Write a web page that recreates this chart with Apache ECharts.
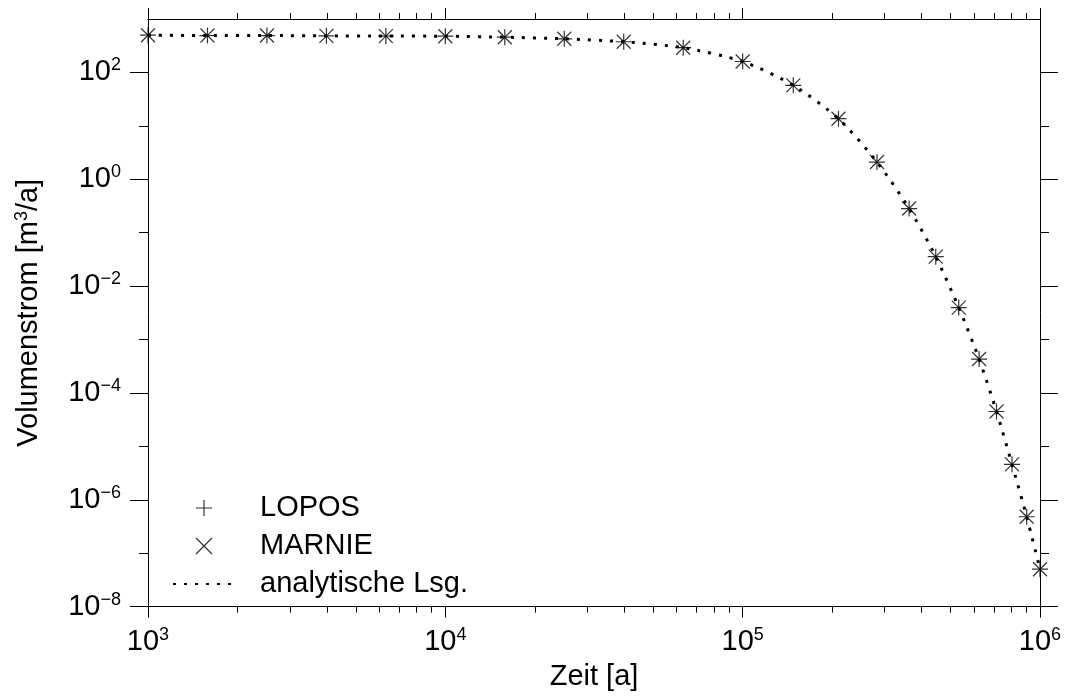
<!DOCTYPE html>
<html><head><meta charset="utf-8">
<script src="https://cdn.jsdelivr.net/npm/echarts@6/dist/echarts.min.js"></script>
<style>html,body{margin:0;padding:0;background:#fff}#c{width:1068px;height:698px}</style>
</head><body><div id="c"></div>
<script>
// ---- data ----
const times = [1000, 1585, 2512, 3981, 6310, 10000, 15849, 25119, 39811, 63096, 100000,
  148000, 210000, 283000, 363000, 446000, 533000, 624000, 714000, 805000, 902000, 1000000];
const loposFlow = [497, 490, 490, 484, 479, 476, 456, 426, 375, 290, 160,
  57.3, 13.6, 2.10, 0.283, 0.0356, 0.00396, 0.000431, 0.0000449, 0.00000461, 0.000000481, 0.0000000501];
const marnieFlow = [497, 490, 490, 484, 479, 476, 456, 426, 375, 290, 160,
  57.3, 13.6, 2.10, 0.283, 0.0356, 0.00396, 0.000431, 0.0000449, 0.00000461, 0.000000481, 0.0000000501];
const analyticFlow = [497, 490, 490, 484, 479, 476, 456, 426, 375, 290, 160,
  57.3, 13.6, 2.10, 0.283, 0.0356, 0.00396, 0.000431, 0.0000449, 0.00000461, 0.000000481, 0.0000000501];
const seriesNames = ['LOPOS', 'MARNIE', 'analytische Lsg.'];
const xMajorTicks = [1e3, 1e4, 1e5, 1e6];
const xMinorTicks = [2e3,3e3,4e3,5e3,6e3,7e3,8e3,9e3, 2e4,3e4,4e4,5e4,6e4,7e4,8e4,9e4, 2e5,3e5,4e5,5e5,6e5,7e5,8e5,9e5];
const yMajorTicks = [1e-8, 1e-6, 1e-4, 1e-2, 1, 1e2];
const yMinorTicks = [1e-7, 1e-5, 1e-3, 1e-1, 1e1];
const xName = 'Zeit [a]';
const yNameRich = 'Volumenstrom [m{s|3}/a]';

// ---- chart ----
const FONT = 'Liberation Sans';
const rich = {
  b: { fontFamily: FONT, fontSize: 29, lineHeight: 32, color: '#000', verticalAlign: 'middle' },
  s: { fontFamily: FONT, fontSize: 18, lineHeight: 18, color: '#000', verticalAlign: 'top' }
};
const expFmt = v => {
  const e = Math.round(Math.log10(v));
  return '{b|10}{s|' + (e < 0 ? '\u2212' + (-e) : e) + '}';
};
const black = { color: '#000', width: 1 };
const plusPath = 'path://M0,8L16,8M8,0L8,16';
const crossPath = 'path://M0,0L14,14M0,14L14,0';

function xAx(pos, ticks, len, withLabel, line) {
  return {
    type: 'log', logBase: 10, min: 1e3, max: 1e6, position: pos,
    axisLine: { show: line, onZero: false, lineStyle: black },
    axisTick: { show: true, length: len, customValues: ticks, lineStyle: black },
    axisLabel: withLabel ? { show: true, customValues: ticks, formatter: expFmt, margin: 19, rich: rich } : { show: false },
    splitLine: { show: false }, minorTick: { show: false }
  };
}
function yAx(pos, ticks, len, withLabel, line) {
  return {
    type: 'log', logBase: 10, min: 1e-8, max: 1e3, position: pos,
    axisLine: { show: line, onZero: false, lineStyle: black },
    axisTick: { show: true, length: len, customValues: ticks, lineStyle: black },
    axisLabel: withLabel ? { show: true, customValues: ticks, formatter: expFmt, margin: 27, rich: rich } : { show: false },
    splitLine: { show: false }, minorTick: { show: false }
  };
}
const xAxes = [
  xAx('bottom', xMajorTicks, 11, true, true),
  xAx('bottom', xMinorTicks, 6, false, false),
  xAx('top', xMajorTicks, 11, false, true),
  xAx('top', xMinorTicks, 6, false, false)
];
Object.assign(xAxes[0], {
  name: xName, nameLocation: 'middle', nameGap: 51,
  nameTextStyle: { fontFamily: FONT, fontSize: 29, lineHeight: 32, color: '#000' }
});
const yAxes = [
  yAx('left', yMajorTicks, 18, true, true),
  yAx('left', yMinorTicks, 9, false, false),
  yAx('right', yMajorTicks, 18, false, true),
  yAx('right', yMinorTicks, 9, false, false)
];
Object.assign(yAxes[0], {
  name: yNameRich, nameLocation: 'middle', nameGap: 103, nameRotate: 90,
  nameTextStyle: {
    fontFamily: FONT, fontSize: 29, lineHeight: 32, color: '#000',
    rich: { s: { fontFamily: FONT, fontSize: 18, lineHeight: 18, color: '#000', verticalAlign: 'top' } }
  }
});

const chart = echarts.init(document.getElementById('c'), null, { renderer: 'canvas' });
chart.setOption({
  animation: false,
  backgroundColor: '#fff',
  grid: { left: 148, right: 28, top: 19, bottom: 85, containLabel: false },
  xAxis: xAxes,
  yAxis: yAxes,
  legend: {
    orient: 'vertical', left: 172, top: 492, padding: 0,
    itemWidth: 62, itemHeight: 16, itemGap: 6,
    selectedMode: false,
    textStyle: { fontFamily: FONT, fontSize: 29, lineHeight: 32, color: '#000', padding: [0, 0, 0, 20] },
    data: [
      { name: seriesNames[0], icon: plusPath, itemStyle: { color: 'rgba(0,0,0,0)', borderColor: '#000', borderWidth: 1.2 } },
      { name: seriesNames[1], icon: crossPath, itemStyle: { color: 'rgba(0,0,0,0)', borderColor: '#000', borderWidth: 1.2 } },
      { name: seriesNames[2], itemStyle: { opacity: 0, color: 'rgba(0,0,0,0)', borderWidth: 0 } }
    ]
  },
  series: [
    {
      name: seriesNames[2], type: 'line', xAxisIndex: 0, yAxisIndex: 0,
      data: times.map((t, i) => [t, analyticFlow[i]]),
      symbol: 'none', smooth: 0.25,
      lineStyle: { color: '#000', width: 3, type: [3, 8] },
      itemStyle: { color: '#000' }, z: 2
    },
    {
      name: seriesNames[0], type: 'scatter', xAxisIndex: 0, yAxisIndex: 0,
      data: times.map((t, i) => [t, loposFlow[i]]),
      symbol: plusPath, symbolSize: 16,
      itemStyle: { color: 'rgba(0,0,0,0)', borderColor: '#000', borderWidth: 1.2 }, z: 3
    },
    {
      name: seriesNames[1], type: 'scatter', xAxisIndex: 0, yAxisIndex: 0,
      data: times.map((t, i) => [t, marnieFlow[i]]),
      symbol: crossPath, symbolSize: 14,
      itemStyle: { color: 'rgba(0,0,0,0)', borderColor: '#000', borderWidth: 1.2 }, z: 3
    }
  ]
});
</script></body></html>
